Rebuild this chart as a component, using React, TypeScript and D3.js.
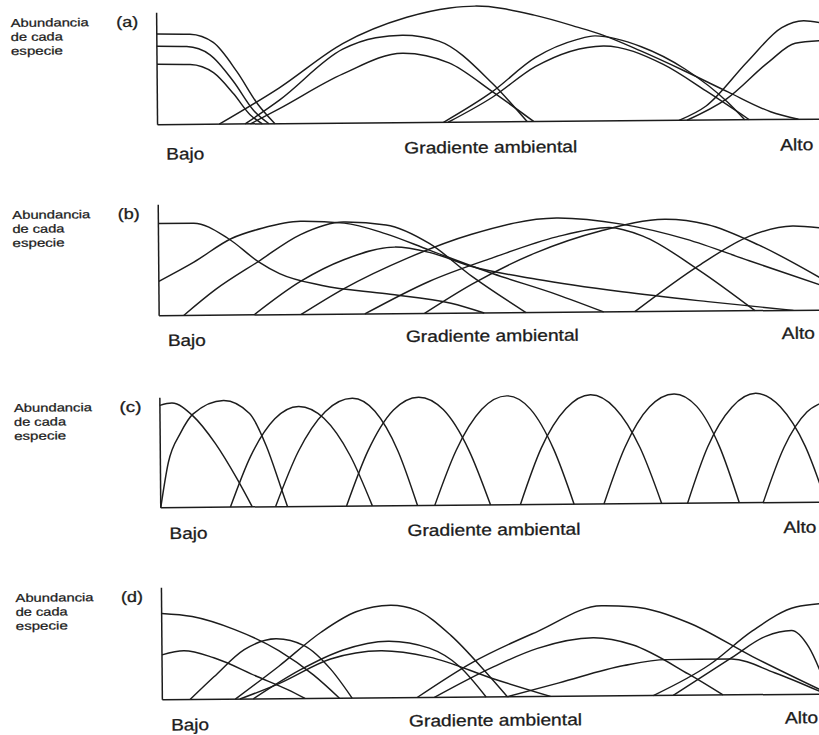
import React from 'react';
import * as d3 from 'd3';

type Pt = [number, number];

// gradient position 0 (Bajo) .. 100 (Alto), abundance 0 .. 100 (100 = top of the axis)
const curvesA: Pt[][] = [
  [[0, 81], [5, 80.5], [8.5, 73], [12, 47], [15.2, 17], [17.7, 0]],
  [[0, 70], [4.5, 69.5], [8, 62], [11.5, 38], [14.5, 12], [16.8, 0]],
  [[0, 54], [5, 53.5], [8.5, 46], [11.5, 27], [14, 8], [15.8, 0]],
  [[9.3, 0], [18.4, 32], [28, 71], [37.7, 94], [44.2, 102], [48, 103.5], [56.9, 95], [63.4, 84], [66.6, 78], [73, 62], [79.5, 44], [86, 25], [92.4, 7], [96.6, 0]],
  [[13.2, 0], [18.4, 21], [28, 66], [33, 76], [37, 78], [42.5, 72.5], [50.5, 34.5], [55.7, 0]],
  [[14, 0], [18.4, 13.5], [28, 44], [37, 62], [44, 53], [50.5, 27], [56.7, 0]],
  [[43.1, 0], [50.5, 27], [57, 57], [63.4, 73], [66, 76], [73, 66], [79.5, 46], [86, 15.5], [88.5, 0]],
  [[43.8, 0], [50.5, 22], [57, 49], [67.3, 67], [76.3, 50], [82.7, 26], [89.2, 0]],
  [[78.6, 0], [82.7, 12.6], [89, 52], [94.2, 82], [97.5, 88], [100, 86]],
  [[79.8, 0], [85.8, 18.8], [92.3, 52], [96.2, 68], [100, 70]],
];

const curvesB: Pt[][] = [
  [[0, 83], [5.3, 83], [10.5, 69], [15, 48], [18.2, 37], [24.6, 26], [34.3, 18], [44, 9], [49, 0]],
  [[0, 31], [5.3, 48], [11, 69], [15.6, 78], [21.4, 84], [28, 82], [34.3, 72], [40.8, 57], [50.5, 35], [60, 16], [67, 0]],
  [[3.7, 0], [8.5, 23], [15, 48], [21.4, 72], [27.9, 83], [34.3, 80], [40.8, 63], [47.2, 33], [55.3, 0]],
  [[14.3, 0], [21.4, 30], [27.9, 49], [35.6, 60], [40.8, 55], [47.2, 42], [56.9, 30], [69.8, 18], [82.7, 8.5], [95.6, 0]],
  [[21.4, 0], [27.9, 23], [37.5, 50], [47.2, 71], [60, 85], [69.8, 79], [79.5, 65], [89, 45], [100, 22]],
  [[31, 0], [40.8, 29], [50.5, 50], [60, 68], [67.9, 76], [73, 68], [81.4, 37], [89.8, 0]],
  [[40, 0], [47.2, 26], [56.9, 54], [66.6, 73], [76.3, 83], [82.7, 78], [90.5, 59], [100, 28]],
  [[71.7, 0], [81.4, 41], [89, 67], [95.6, 76], [100, 74]],
];

const curvesC: Pt[][] = [
  [[0, 93], [1.8, 95], [5, 83], [8.3, 58], [11.5, 26], [13.8, 0]],
  [[0, 0], [1.2, 41], [3.1, 68], [5, 85], [9.6, 97], [13.5, 85], [16, 55], [18, 20], [19.1, 0]],
  [[10.5, 0], [13.6, 46], [17.3, 80], [20.9, 91], [24.7, 80], [28.6, 46], [31.9, 0]],
  [[17.3, 0], [20.8, 50], [24.9, 86], [29, 98], [32.4, 86], [35.8, 50], [38.7, 0]],
  [[28, 0], [31.3, 50], [35.2, 87], [39, 98.5], [42.7, 87], [46.5, 50], [49.7, 0]],
  [[41.3, 0], [44.6, 50], [48.5, 87], [52.3, 99], [55.8, 87], [59.3, 50], [62.3, 0]],
  [[54.2, 0], [57.4, 51], [61.2, 87], [64.9, 99.4], [68.6, 87], [72.3, 51], [75.5, 0]],
  [[66.8, 0], [70, 51], [73.8, 88], [77.5, 99.5], [80.9, 88], [84.3, 51], [87.2, 0]],
  [[79.4, 0], [82.5, 51], [86.2, 87], [89.8, 99.4], [93.5, 87], [97.2, 51], [100.3, 0]],
  [[90.8, 0], [94, 50], [97.5, 82], [100, 91]],
];

const curvesD: Pt[][] = [
  [[0, 77], [4.6, 74], [11, 62], [17.6, 43], [22.8, 21], [26.7, 0]],
  [[0, 40], [3.3, 43.5], [7.8, 37], [14.3, 20], [18.9, 8], [21.5, 0]],
  [[4.2, 0], [7.8, 20], [12.4, 44], [17.2, 53.5], [21.5, 47], [25.4, 26], [28.6, 0]],
  [[11, 0], [17.6, 29], [24, 59], [29.3, 77], [34.5, 82.6], [38.4, 78], [43.6, 55], [48.8, 22], [52, 0]],
  [[13.7, 0], [20.8, 25.5], [27.3, 43], [34.1, 50.5], [40.3, 44], [44.9, 27], [48.8, 0]],
  [[11.7, 0], [17.6, 13.5], [25.4, 35], [33, 42], [40.3, 36], [50, 16], [58.5, 0]],
  [[38.4, 0], [46.8, 31], [56.6, 58], [66.3, 80.5], [70.9, 79.5], [79.3, 65], [89, 34], [100, 1.5]],
  [[41, 0], [50, 27], [56.6, 43], [65, 52], [70.9, 45.5], [79.3, 19], [84.5, 0]],
  [[52, 0], [59.8, 12], [69.6, 27], [76, 32], [85.8, 32], [92.3, 19.5], [100, 0]],
  [[74, 0], [82.6, 27.5], [89, 57], [95.6, 78], [100, 81]],
  [[77, 0], [85.8, 33], [91, 52], [94.9, 57], [97.5, 42], [100, 8]],
];

const panelLetters = ['(a)', '(b)', '(c)', '(d)'];
const panelCurves = [curvesA, curvesB, curvesC, curvesD];
const yLabelLines = ['Abundancia', 'de cada', 'especie'];
const xLabels = ['Bajo', 'Gradiente ambiental', 'Alto'];

// layout (before the slight scan tilt)
const AXIS_X = 156.5;
const RIGHT_X = 820;
const tops = [14, 206, 399, 589];
const bases = [126, 317, 509, 701];
const xLabelDy = [31, 28.5, 30.5, 29];
const xLabelExtra = [[4, 0, 0], [2, 0, 0], [1, 0, 0], [2, 0, 0]];
const xLabelPos = [165, 403, 779];
const xLabelLen = [38, 173, 33];
const yLabelLen = [78, 52, 52];
const INK = '#1c1c1c';
const FONT = '"Liberation Sans", Arial, Helvetica, sans-serif';

export default function App() {
  const x = d3.scaleLinear().domain([0, 100]).range([AXIS_X, RIGHT_X]);

  return (
    <svg width={819} height={735} style={{ position: 'fixed', left: 0, top: 0, background: '#fff' }}>
      <rect width={819} height={735} fill="#fff" />
      <g transform="rotate(-0.48)">
        {panelCurves.map((curves, i) => {
          const y = d3.scaleLinear().domain([0, 100]).range([bases[i], tops[i]]);
          const line = d3.line<Pt>()
            .x(d => x(d[0]))
            .y(d => y(d[1]))
            .curve(d3.curveMonotoneX);
          return (
            <g key={i}>
              {yLabelLines.map((t, j) => (
                <text key={t} x={10.5} y={tops[i] + 13 + j * 14} fontFamily={FONT} fontSize={11.5}
                  fill={INK} stroke={INK} strokeWidth={0.25}
                  textLength={yLabelLen[j]} lengthAdjust="spacingAndGlyphs">{t}</text>
              ))}
              <text x={116} y={tops[i] + 14} fontFamily={FONT} fontSize={15} fill={INK}
                stroke={INK} strokeWidth={0.3}
                textLength={22} lengthAdjust="spacingAndGlyphs">{panelLetters[i]}</text>
              <line x1={AXIS_X} x2={AXIS_X} y1={y(0)} y2={y(100)} stroke={INK} strokeWidth={1.5} />
              <line x1={AXIS_X} x2={RIGHT_X + 6} y1={y(0)} y2={y(0)} stroke={INK} strokeWidth={1.5} />
              {curves.map((c, k) => (
                <path key={k} d={line(c) || ''} fill="none" stroke={INK} strokeWidth={1.45} />
              ))}
              {xLabels.map((t, j) => (
                <text key={t} x={xLabelPos[j]} y={bases[i] + xLabelDy[i] + xLabelExtra[i][j]}
                  fontFamily={FONT} fontSize={16.5} fill={INK} stroke={INK} strokeWidth={0.3}
                  textLength={xLabelLen[j]} lengthAdjust="spacingAndGlyphs">{t}</text>
              ))}
            </g>
          );
        })}
      </g>
    </svg>
  );
}
